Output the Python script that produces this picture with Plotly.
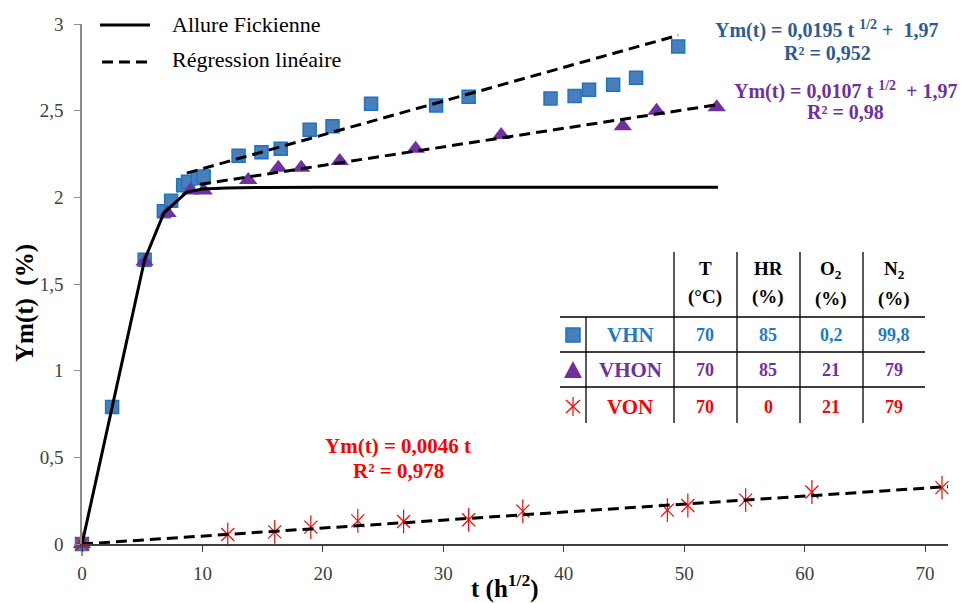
import plotly.graph_objects as go

# ---------------- data ----------------
vhn_x = [0, 2.5, 5.2, 6.8, 7.4, 8.4, 8.8, 9.6, 10.1, 13.0, 14.9, 16.5, 18.9, 20.8, 24.0, 29.4, 32.1, 38.9, 40.9, 42.1, 44.1, 46.0, 49.5]
vhn_y = [0, 0.79, 1.64, 1.92, 1.98, 2.07, 2.09, 2.11, 2.12, 2.24, 2.26, 2.28, 2.39, 2.41, 2.54, 2.53, 2.58, 2.57, 2.585, 2.62, 2.65, 2.69, 2.87]

vhon_x = [0, 5.2, 7.1, 9.0, 10.1, 13.8, 16.3, 18.2, 21.4, 27.7, 34.8, 44.9, 47.7, 52.7]
vhon_y = [0, 1.63, 1.91, 2.04, 2.04, 2.10, 2.17, 2.17, 2.21, 2.28, 2.36, 2.41, 2.50, 2.52]

von_x = [0, 12.1, 16.0, 19.0, 22.9, 26.7, 32.1, 36.6, 48.6, 50.3, 55.1, 60.6, 71.4]
von_y = [0, 0.055, 0.07, 0.097, 0.133, 0.13, 0.14, 0.19, 0.195, 0.222, 0.253, 0.30, 0.325]

fick_x = [0, 2.5, 5.2, 6.8, 8.7, 10, 12, 15, 20, 52.8]
fick_y = [0, 0.79, 1.64, 1.91, 2.03, 2.048, 2.054, 2.057, 2.058, 2.058]

reg_vhn_x = [8.7, 49.5]
reg_vhn_y = [2.14, 2.935]
reg_vhon_x = [9.8, 52.8]
reg_vhon_y = [2.075, 2.535]
reg_von_x = [0, 71.9]
reg_von_y = [0, 0.331]

x_ticks = [0, 10, 20, 30, 40, 50, 60, 70]
y_ticks = [0, 0.5, 1, 1.5, 2, 2.5, 3]
y_ticklabels = ["0", "0,5", "1", "1,5", "2", "2,5", "3"]

NB = "\u00a0"
legend_labels = ["Allure Fickienne", "Régression linéaire"]
eq_vhn = ["Ym(t) = 0,0195 t <sup>1/2</sup> +" + NB + NB + "1,97", "R² = 0,952"]
eq_vhon = ["Ym(t) = 0,0107 t <sup>1/2</sup>" + NB + NB + "+ 1,97", "R² = 0,98"]
eq_von = ["Ym(t) = 0,0046 t", "R² = 0,978"]

table_header = [("T", "(°C)"), ("HR", "(%)"), ("O<sub>2</sub>", "(%)"), ("N<sub>2</sub>", "(%)")]
table_rows = [("VHN", ["70", "85", "0,2", "99,8"]),
              ("VHON", ["70", "85", "21", "79"]),
              ("VON", ["70", "0", "21", "79"])]

# ---------------- styles ----------------
SERIF = "Liberation Serif"
C_SQ_FILL = "#4A7EBB"
C_SQ_LINE = "#1C75C0"
C_PURPLE = "#7030A0"
C_RED = "#FF0000"
C_EQ_BLUE = "#2E5C8F"
C_TAB_BLUE = "#1F7AC4"

L, R, T, B = 82, 15, 24, 59
W, H = 963, 603
PW, PH = W - L - R, H - T - B


def px(x):
    return (x - L) / PW


def py(y):
    return (H - B - y) / PH


fig = go.Figure()

# markers
fig.add_trace(go.Scatter(x=vhn_x, y=vhn_y, mode="markers", cliponaxis=False,
                         marker=dict(symbol="square", size=13, color=C_SQ_FILL,
                                     line=dict(color=C_SQ_LINE, width=1.5)),
                         showlegend=False))
fig.add_trace(go.Scatter(x=vhon_x, y=vhon_y, mode="markers", cliponaxis=False,
                         marker=dict(symbol="triangle-up", size=16, color=C_PURPLE,
                                     line=dict(color=C_PURPLE, width=0)),
                         showlegend=False))
fig.add_trace(go.Scatter(x=von_x, y=von_y, mode="markers", cliponaxis=False,
                         marker=dict(symbol="x-thin-open", size=13, color=C_RED,
                                     line=dict(color=C_RED, width=1.2)),
                         showlegend=False))
fig.add_trace(go.Scatter(x=von_x, y=von_y, mode="markers", cliponaxis=False,
                         marker=dict(symbol="line-ns-open", size=17, color=C_RED,
                                     line=dict(color=C_RED, width=1.2)),
                         showlegend=False))

# lines
DASH = "11px,6px"
fig.add_trace(go.Scatter(x=fick_x, y=fick_y, mode="lines", cliponaxis=False,
                         line=dict(color="black", width=3), showlegend=False))
for xs, ys in [(reg_vhn_x, reg_vhn_y), (reg_vhon_x, reg_vhon_y), (reg_von_x, reg_von_y)]:
    fig.add_trace(go.Scatter(x=xs, y=ys, mode="lines", cliponaxis=False,
                             line=dict(color="black", width=3, dash=DASH), showlegend=False))

shapes = []
annotations = []


def text(x, y, s, size=18, color="black", bold=False, xanchor="center", angle=0):
    if bold:
        s = "<b>" + s + "</b>"
    annotations.append(dict(x=px(x), y=py(y), xref="paper", yref="paper", text=s,
                            showarrow=False, xanchor=xanchor, yanchor="middle",
                            textangle=angle,
                            font=dict(family=SERIF, size=size, color=color)))


def line(x0, y0, x1, y1, color="black", width=1.3, dash=None):
    d = dict(type="line", xref="paper", yref="paper", x0=px(x0), y0=py(y0),
             x1=px(x1), y1=py(y1), line=dict(color=color, width=width))
    if dash:
        d["line"]["dash"] = dash
    shapes.append(d)


# legend
line(100, 25, 150, 25, width=3)
line(102, 62, 152, 62, width=3, dash=DASH)
text(170, 24, legend_labels[0], size=22, xanchor="left")
text(170, 60, legend_labels[1], size=22, xanchor="left")

# equations
text(826, 30, eq_vhn[0], size=20, color=C_EQ_BLUE, bold=True)
text(827, 53, eq_vhn[1], size=20, color=C_EQ_BLUE, bold=True)
text(845, 90, eq_vhon[0], size=20, color=C_PURPLE, bold=True)
text(845, 112, eq_vhon[1], size=20, color=C_PURPLE, bold=True)
text(398, 446, eq_von[0], size=21, color=C_RED, bold=True)
text(398, 471, eq_von[1], size=21, color=C_RED, bold=True)

# axis titles
text(25, 303, "Ym(t)" + NB + NB + "(%)", size=25, bold=True, angle=-90)
text(505, 586, "t (h<sup>1/2</sup>)", size=25, bold=True)

# table grid
for xv in [674, 737, 800, 863]:
    line(xv, 252, xv, 423)
line(586, 317, 586, 423)
for yv in [317, 352, 387]:
    line(560, yv, 925, yv)

col_x = [705, 768, 831, 894]
for cx, (h1, h2) in zip(col_x, table_header):
    off = 2 if "sub" in h1 else 0
    text(cx, 268 + off, h1, size=19, bold=True)
    text(cx, 297 + off, h2, size=19, bold=True)

row_y = [335, 370, 407]
row_colors = [C_TAB_BLUE, C_PURPLE, C_RED]
for ry, rc, (name, vals) in zip(row_y, row_colors, table_rows):
    text(630, ry, name, size=21, color=rc, bold=True)
    for cx, v in zip(col_x, vals):
        text(cx, ry, v, size=18, color=rc, bold=True)

# table icons
shapes.append(dict(type="rect", xref="paper", yref="paper",
                   x0=px(566), x1=px(580), y0=py(342), y1=py(328),
                   fillcolor=C_SQ_FILL, line=dict(color=C_SQ_LINE, width=1.5)))
shapes.append(dict(type="path", xref="paper", yref="paper",
                   path="M %f,%f L %f,%f L %f,%f Z" % (px(564), py(378), px(582), py(378), px(573), py(361)),
                   fillcolor=C_PURPLE, line=dict(color=C_PURPLE, width=0)))
line(573, 397, 573, 416, color=C_RED, width=1.2)
line(566, 400, 580, 413, color=C_RED, width=1.2)
line(580, 400, 566, 413, color=C_RED, width=1.2)

fig.update_layout(
    width=W, height=H,
    margin=dict(l=L, r=R, t=T, b=B, pad=0),
    plot_bgcolor="white", paper_bgcolor="white",
    shapes=shapes, annotations=annotations,
    showlegend=False,
    font=dict(family=SERIF, size=18, color="#404040"),
)
fig.update_xaxes(range=[0, 71.9], tickvals=x_ticks, showgrid=False, zeroline=False,
                 showline=True, linecolor="#404040", linewidth=1.5,
                 ticks="outside", ticklen=6, tickcolor="#404040", tickwidth=1.3,
                 ticklabelstandoff=5,
                 tickfont=dict(family=SERIF, size=19, color="#404040"))
fig.update_yaxes(range=[0, 3], tickvals=y_ticks, ticktext=y_ticklabels, showgrid=False,
                 zeroline=False, showline=True, linecolor="#8c8c8c", linewidth=1.5,
                 ticks="outside", ticklen=6, tickcolor="#8c8c8c", tickwidth=1.3,
                 ticklabelstandoff=7,
                 tickfont=dict(family=SERIF, size=19, color="#404040"))

fig.write_html("out.html", config={"displayModeBar": False},
               post_script="document.body.style.margin='0';document.body.style.overflow='hidden';")
